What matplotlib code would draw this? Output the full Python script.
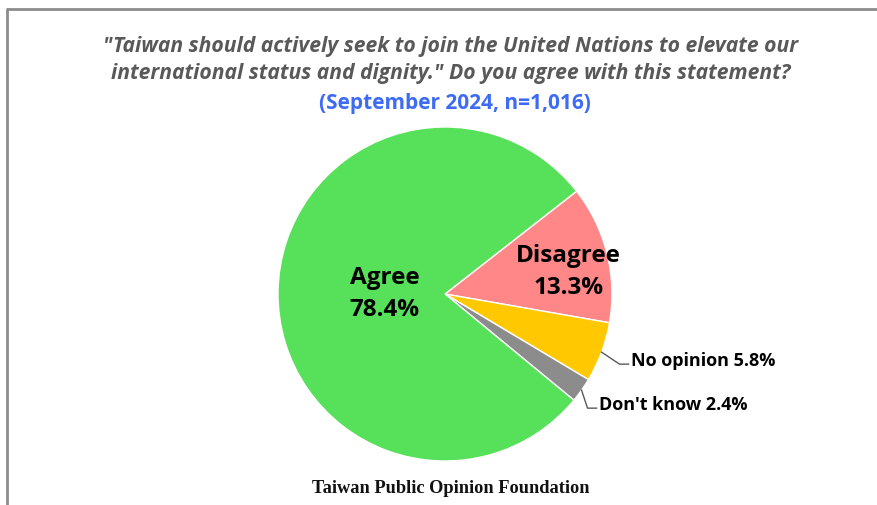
import matplotlib.pyplot as plt
import numpy as np

# survey results, Sept 2024
labels = ['Disagree', 'No opinion', "Don't know", 'Agree']
shares = [13.3, 5.8, 2.4, 78.4]
colors = ['#FF8787', '#FFC800', '#8C8C8C', '#57E05A']

title_q = ('"Taiwan should actively seek to join the United Nations to elevate our\n'
           'international status and dignity." Do you agree with this statement?')
title_n = '(September 2024, n=1,016)'
source = 'Taiwan Public Opinion Foundation'

W, H = 878, 506
fig = plt.figure(figsize=(W / 100, H / 100), dpi=100)
ax = fig.add_axes([0, 0, 1, 1])

cx, cy, R = 445, H - 295, 167
wedges, _ = ax.pie(shares, colors=colors, startangle=38, counterclock=False,
                   center=(cx, cy), radius=R,
                   wedgeprops=dict(edgecolor='white', linewidth=1))
ax.set_xlim(0, W)
ax.set_ylim(0, H)
ax.axis('off')

# mid angles of each wedge
mids = [np.deg2rad((w.theta1 + w.theta2) / 2) for w in wedges]

def pct(v):
    return f'{v:.1f}%'

big = dict(fontsize=17.5, fontweight='bold', ha='center', va='center',
           family='Open Sans', linespacing=1.45)
a = mids[3]
ax.text(cx + 0.36 * R * np.cos(a), cy + 0.36 * R * np.sin(a),
        f'{labels[3]}\n{pct(shares[3])}', **big)
a = mids[0]
ax.text(cx + 0.75 * R * np.cos(a) + 2, cy + 0.75 * R * np.sin(a) - 7,
        f'{labels[0]}\n{pct(shares[0])}', **big)

# callouts for the two small slices
small = dict(fontsize=13, fontweight='bold', ha='left', va='center', family='Open Sans')
for i, (dx, dy, hx) in zip([1, 2], [(18, -12, 9), (6, -18, 9)]):
    a = mids[i]
    x0, y0 = cx + R * np.cos(a), cy + R * np.sin(a)
    x1, y1 = x0 + dx, y0 + dy
    ax.plot([x0, x1, x1 + hx], [y0, y1, y1], color='#595959', lw=1)
    ax.text(x1 + hx + 2, y1 + 4, f'{labels[i]} {pct(shares[i])}', **small)

# titles
ax.text(W / 2 + 12, H - 60, title_q, fontsize=15.2, fontweight='bold', style='italic',
        color='#595959', ha='center', va='center', family='Open Sans', linespacing=1.42)
ax.text(W / 2 + 16, H - 103, title_n, fontsize=15, fontweight='bold',
        color='#3D6BF5', ha='center', va='center', family='Open Sans')
ax.text(451, H - 489, source, fontsize=13.2, fontweight='bold', color='#111111',
        ha='center', va='center', family='Liberation Serif')

# frame lines
ax.plot([6, W], [H - 10, H - 10], color='#8C8C8C', lw=2, solid_capstyle='butt')
ax.plot([7, 7], [0, H - 10], color='#8C8C8C', lw=2, solid_capstyle='butt')

fig.savefig('out.png', dpi=100)
